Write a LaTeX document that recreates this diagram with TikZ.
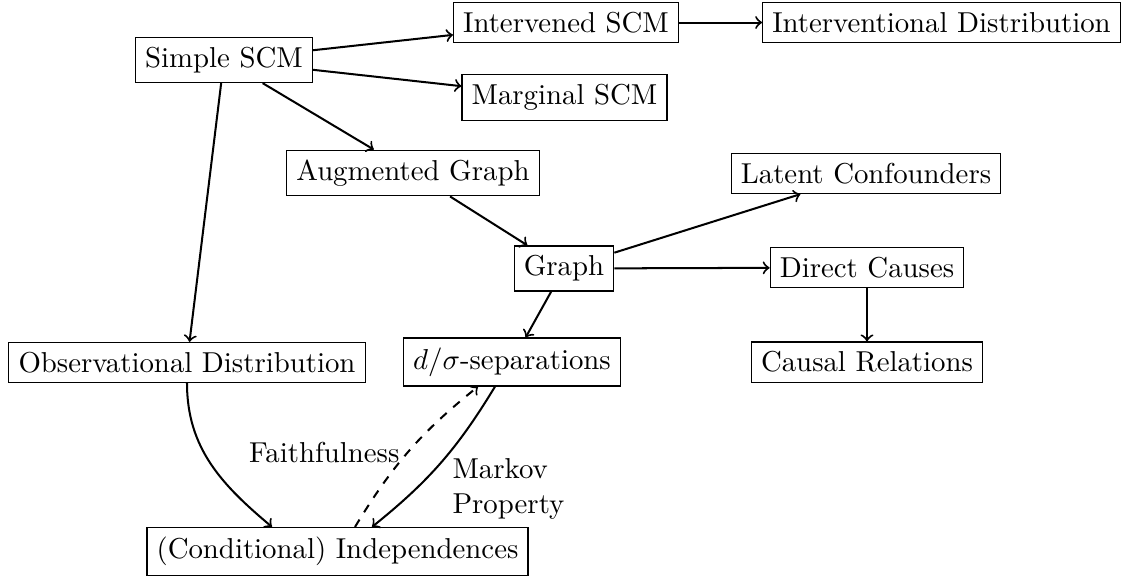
\documentclass[tikz,border=0pt]{standalone}
\usetikzlibrary{calc}
\begin{document}
\begin{tikzpicture}[x=0.3472pt,y=-0.3472pt,
  box/.style={draw, line width=0.4pt, inner sep=0.3333em},
  conn/.style={->, line width=0.7pt},
  lbl/.style={inner sep=0pt}]
\useasboundingbox (0,0) rectangle (1123,577);
\node[box] (simple) at (224,60) {Simple SCM};
\node[box] (intv) at (566,22.5) {Intervened SCM};
\node[box] (intvdist) at (941.5,22.5) {Interventional Distribution};
\node[box] (marg) at (564.5,97.5) {Marginal SCM};
\node[box] (aug) at (413,173) {Augmented Graph};
\node[box] (latent) at (866,173.5) {Latent Confounders};
\node[box] (graph) at (564,268.5) {Graph};
\node[box] (direct) at (867,267.5) {Direct Causes};
\node[box] (obs) at (187,362.5) {Observational Distribution};
\node[box] (dsep) at (512,362) {$d/\sigma$-separations};
\node[box] (causal) at (867,362) {Causal Relations};
\node[box] (ind) at (337.5,551.5) {(Conditional) Independences};

\draw[conn] (simple) -- (intv);
\draw[conn] (simple) -- (marg);
\draw[conn] (simple) -- (aug);
\draw[conn] (simple) -- (obs);
\draw[conn] (intv) -- (intvdist);
\draw[conn] (aug) -- (graph);
\draw[conn] (graph) -- (latent);
\draw[conn] (graph) -- (direct);
\draw[conn] (graph) -- (dsep);
\draw[conn] (direct) -- (causal);
\draw[conn] (obs.south) to[out=-90,in=140] ($(ind.north)+(-65.5,0)$);
\draw[conn, dashed] ($(ind.north)+(17.5,0)$) to[bend left=10] ($(dsep.south)+(-34,0)$);
\draw[conn] ($(dsep.south)+(-17,0)$) to[bend left=10] ($(ind.north)+(34.5,0)$);

\node[lbl, anchor=base east] (faith) at (400,462) {Faithfulness};
\node[lbl, anchor=north west, align=left] (markov) at (452,458) {Markov\\Property};
\end{tikzpicture}
\end{document}
